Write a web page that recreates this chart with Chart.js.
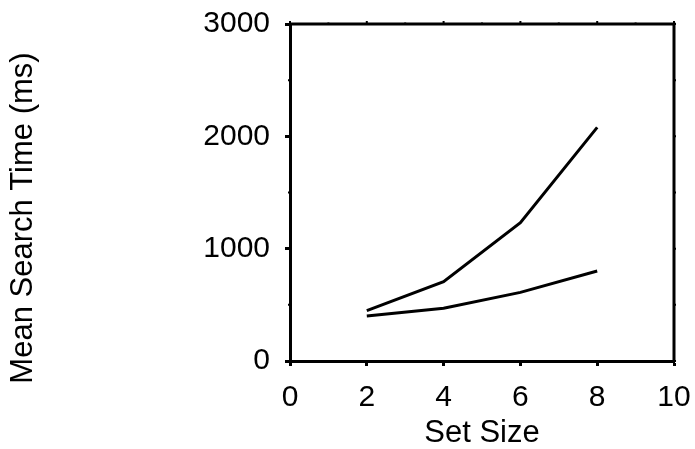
<!DOCTYPE html>
<html>
<head>
<meta charset="utf-8">
<script src="https://cdn.jsdelivr.net/npm/chart.js@4"></script>
<style>
  html, body { margin: 0; padding: 0; background: #fff; }
  #wrap { width: 695px; height: 449px; }
</style>
</head>
<body>
<div id="wrap"><canvas id="chart" width="695" height="449"></canvas></div>
<script>
// Daten
const setSizes = [2, 4, 6, 8];
const obereKurve = [448, 706, 1231, 2080];
const untereKurve = [400, 469, 611, 801];
const xTicks = [0, 2, 4, 6, 8, 10];
const yTicks = [0, 1000, 2000, 3000];
const yTitel = 'Mean Search Time (ms)';

const schrift = 'Liberation Sans, Arial, sans-serif';

// Rahmen oben/rechts, kleine Zwischenstriche und y-Achsentitel
const rahmenPlugin = {
    id: 'rahmen',
    afterDraw(chart) {
        const ctx = chart.ctx;
        const a = chart.chartArea;
        const xs = chart.scales.x, ys = chart.scales.y;
        ctx.save();
        ctx.strokeStyle = '#000';
        ctx.lineWidth = 3;
        ctx.beginPath();
        ctx.moveTo(a.left, a.top);
        ctx.lineTo(a.right, a.top);
        ctx.lineTo(a.right, a.bottom);
        ctx.stroke();

        ctx.lineWidth = 2;
        ctx.beginPath();
        for (let v = 0; v <= 10; v++) {
            const px = xs.getPixelForValue(v);
            const len = v % 2 === 0 ? 3 : 1.5;
            ctx.moveTo(px, a.top);
            ctx.lineTo(px, a.top - len);
            if (v % 2 === 1) {
                ctx.moveTo(px, a.bottom);
                ctx.lineTo(px, a.bottom + 2);
            }
        }
        for (let v = 0; v <= 3000; v += 500) {
            const py = ys.getPixelForValue(v);
            ctx.moveTo(a.right, py);
            ctx.lineTo(a.right + 2, py);
            if (v % 1000 !== 0) {
                ctx.moveTo(a.left, py);
                ctx.lineTo(a.left - 2, py);
            }
        }
        ctx.stroke();

        // y-Titel etwas unterhalb der Mitte, wie im Original
        ctx.translate(23, 218);
        ctx.rotate(-Math.PI / 2);
        ctx.fillStyle = '#000';
        ctx.font = '31px ' + schrift;
        ctx.textAlign = 'center';
        ctx.textBaseline = 'middle';
        ctx.fillText(yTitel, 0, 0);
        ctx.restore();
    }
};

new Chart(document.getElementById('chart'), {
    type: 'line',
    data: {
        datasets: [
            {
                data: setSizes.map((s, i) => ({ x: s, y: obereKurve[i] })),
                borderColor: '#000',
                borderWidth: 3,
                pointRadius: 0,
                tension: 0
            },
            {
                data: setSizes.map((s, i) => ({ x: s, y: untereKurve[i] })),
                borderColor: '#000',
                borderWidth: 3,
                pointRadius: 0,
                tension: 0
            }
        ]
    },
    options: {
        responsive: false,
        animation: false,
        layout: { padding: { top: 24, right: 21, left: 0, bottom: 0 } },
        plugins: {
            legend: { display: false },
            tooltip: { enabled: false }
        },
        scales: {
            x: {
                type: 'linear',
                min: 0,
                max: 10,
                afterBuildTicks: (scale) => { scale.ticks = xTicks.map(v => ({ value: v })); },
                afterFit: (scale) => {
                    scale.height = 88;
                    scale.paddingLeft = 0;
                    scale.paddingRight = 0;
                },
                ticks: {
                    color: '#000',
                    font: { family: schrift, size: 30 },
                    padding: 14,
                    maxRotation: 0,
                    callback: (v) => String(v)
                },
                grid: {
                    drawOnChartArea: false,
                    tickLength: 5,
                    tickWidth: 3,
                    tickColor: '#000'
                },
                border: { width: 3, color: '#000' },
                title: {
                    display: true,
                    text: 'Set Size',
                    color: '#000',
                    font: { family: schrift, size: 31, lineHeight: 0.8 },
                    padding: { top: 0, bottom: 3 }
                }
            },
            y: {
                min: 0,
                max: 3000,
                afterBuildTicks: (scale) => { scale.ticks = yTicks.map(v => ({ value: v })); },
                afterFit: (scale) => {
                    scale.width = 290;
                    scale.paddingTop = 0;
                    scale.paddingBottom = 0;
                },
                ticks: {
                    color: '#000',
                    font: { family: schrift, size: 30 },
                    padding: 15,
                    callback: (v) => String(v)
                },
                grid: {
                    drawOnChartArea: false,
                    tickLength: 5,
                    tickWidth: 3,
                    tickColor: '#000'
                },
                border: { width: 3, color: '#000' }
            }
        }
    },
    plugins: [rahmenPlugin]
});
</script>
</body>
</html>
